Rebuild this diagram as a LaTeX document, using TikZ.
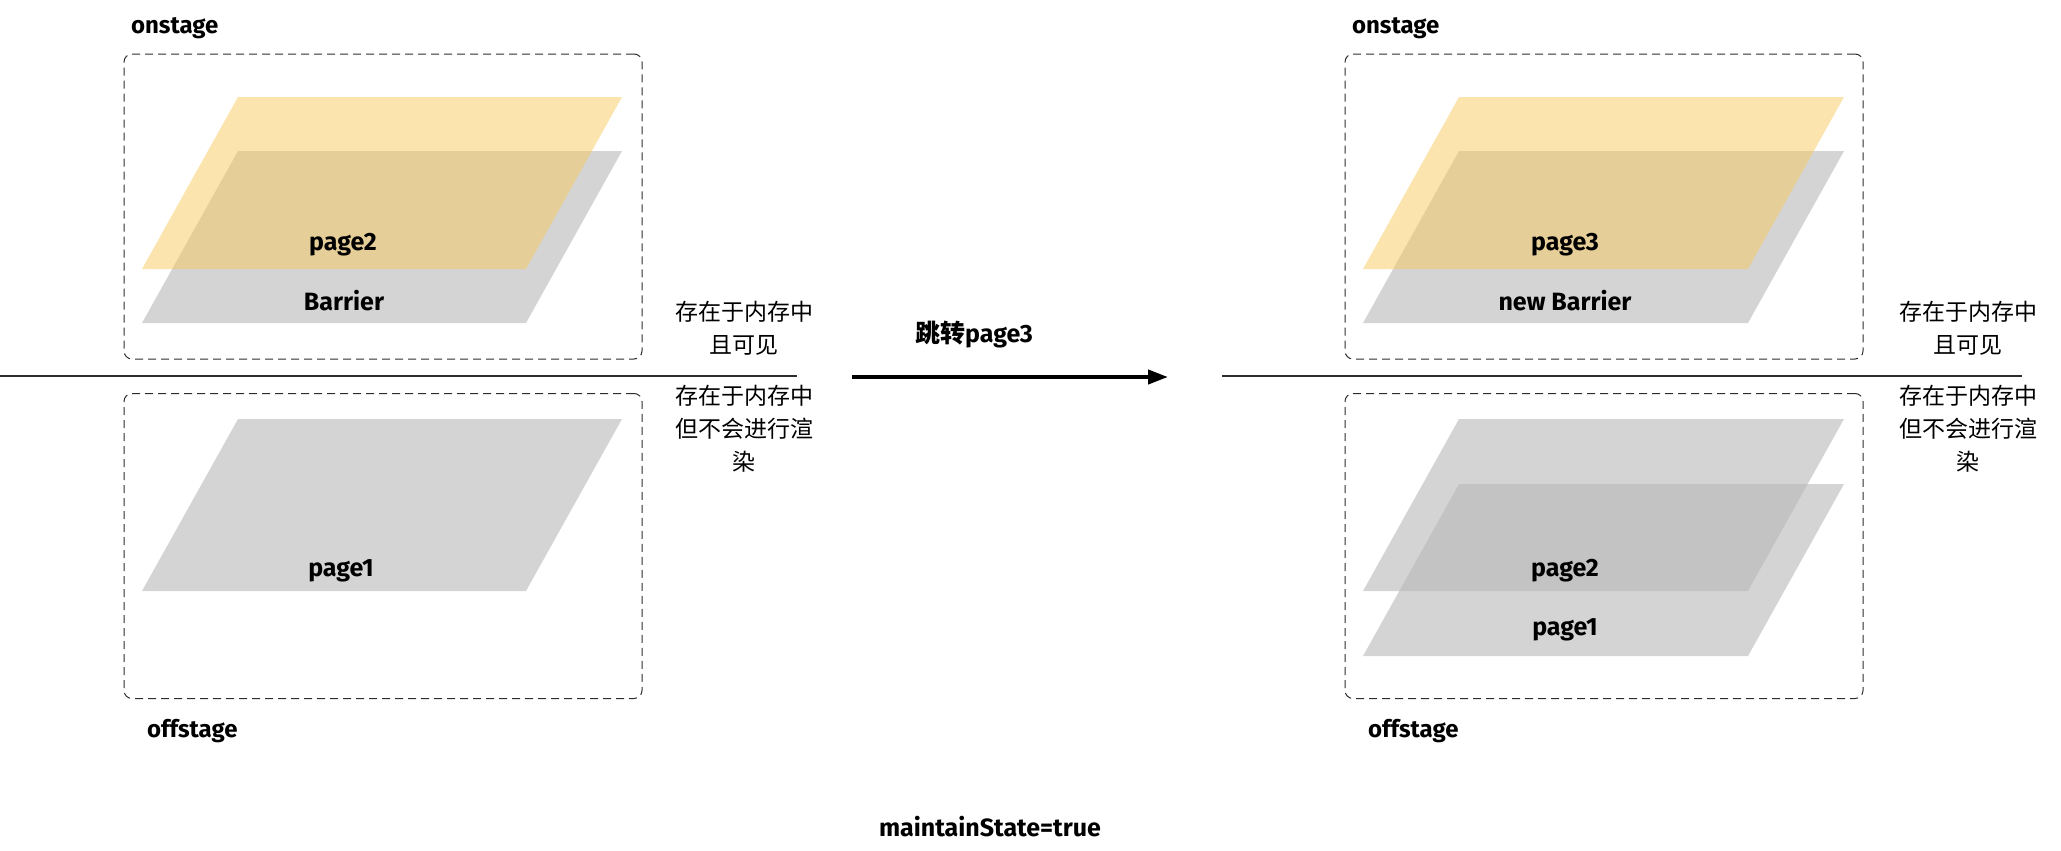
\documentclass[tikz,border=0pt]{standalone}
\usepackage{fontspec}
\setmainfont{Fira Sans}
\newfontfamily\cjk{Noto Sans CJK SC}
\usetikzlibrary{arrows.meta}
\definecolor{sheetyellow}{RGB}{247,201,92}
\definecolor{sheetgray}{RGB}{184,184,184}
\definecolor{framegray}{RGB}{45,45,45}

\tikzset{
    stagebox/.style={draw=framegray, dash pattern=on 4pt off 2.5pt, line width=0.5pt, rounded corners=4pt, inner sep=0pt, minimum width=259pt, minimum height=152.5pt},
    stagelabel/.style={anchor=west, font=\bfseries\fontsize{12}{14}\selectfont},
    yellowsheet/.style={fill=sheetyellow, fill opacity=0.5},
    graysheet/.style={fill=sheetgray, fill opacity=0.6},
    sheetlabel/.style={font=\bfseries\fontsize{12.5}{14}\selectfont},
    memnote/.style={align=center, font=\cjk\fontsize{11.5}{16.5}\selectfont},
    divider/.style={draw=framegray, line width=0.6pt},
    jump/.style={-{Triangle[length=10pt, width=7pt]}, line width=2pt}
}

\begin{document}
\begin{tikzpicture}[x=0.5pt, y=-0.5pt]
    \useasboundingbox (0,0) rectangle (2061,851);

    % before the jump
    \node[stagebox] (onL) at (383,206.5) {};
    \node[stagebox] (offL) at (383,546) {};
    \node[stagelabel] (onLlabel) at (124,28) {onstage};
    \node[stagelabel] (offLlabel) at (140,731) {offstage};

    \fill[graysheet] (142,323) -- ++(384,0) -- ++(96,-172) -- ++(-384,0) -- cycle;
    \fill[yellowsheet] (142,269) -- ++(384,0) -- ++(96,-172) -- ++(-384,0) -- cycle;
    \fill[graysheet] (142,591) -- ++(384,0) -- ++(96,-172) -- ++(-384,0) -- cycle;
    \node[sheetlabel] (p2L) at (343,245) {page2};
    \node[sheetlabel] (barL) at (344,301) {Barrier};
    \node[sheetlabel] (p1L) at (341,571) {page1};

    \coordinate (cutLa) at (0,376);
    \coordinate (cutLb) at (797,376);
    \draw[divider] (cutLa) -- (cutLb);
    \node[memnote] (visL) at (744,328) {存在于内存中\\且可见};
    \node[memnote] (hidL) at (744,429) {存在于内存中\\但不会进行渲\\染};

    % the jump
    \coordinate (jumpA) at (852,377);
    \coordinate (jumpB) at (1168,377);
    \draw[jump] (jumpA) -- (jumpB);
    \node[sheetlabel] (jumpText) at (974,335) {{\cjk 跳转}page3};

    % after the jump
    \node[stagebox] (onR) at (1604,206.5) {};
    \node[stagebox] (offR) at (1604,546) {};
    \node[stagelabel] (onRlabel) at (1345,28) {onstage};
    \node[stagelabel] (offRlabel) at (1361,731) {offstage};

    \fill[graysheet] (1363,323) -- ++(385,0) -- ++(96,-172) -- ++(-385,0) -- cycle;
    \fill[yellowsheet] (1363,269) -- ++(385,0) -- ++(96,-172) -- ++(-385,0) -- cycle;
    \fill[graysheet] (1363,591) -- ++(385,0) -- ++(96,-172) -- ++(-385,0) -- cycle;
    \fill[graysheet] (1363,656) -- ++(385,0) -- ++(96,-172) -- ++(-385,0) -- cycle;
    \node[sheetlabel] (p3R) at (1565,245) {page3};
    \node[sheetlabel] (barR) at (1565,301) {new Barrier};
    \node[sheetlabel] (p2R) at (1565,571) {page2};
    \node[sheetlabel] (p1R) at (1565,630) {page1};

    \coordinate (cutRa) at (1222,376);
    \coordinate (cutRb) at (2022,376);
    \draw[divider] (cutRa) -- (cutRb);
    \node[memnote] (visR) at (1968,328) {存在于内存中\\且可见};
    \node[memnote] (hidR) at (1968,429) {存在于内存中\\但不会进行渲\\染};

    \node[sheetlabel] (flag) at (990,827) {maintainState=true};
\end{tikzpicture}
\end{document}
